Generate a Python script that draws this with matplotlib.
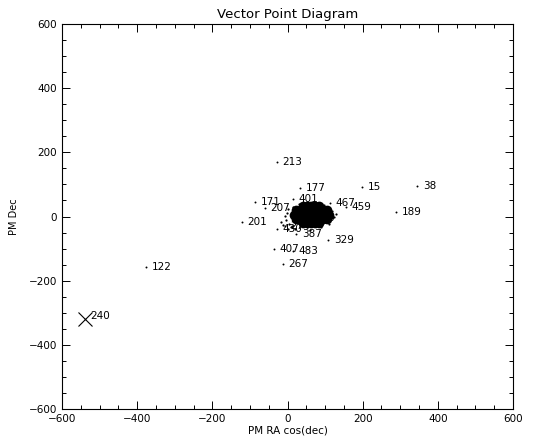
import matplotlib
matplotlib.use("Agg")
import matplotlib.pyplot as plt
from matplotlib.ticker import MultipleLocator

# proper motions of the labelled field stars (mas/yr)
star_ids = ["213", "177", "15", "38", "189", "171", "207", "401", "467", "459",
            "480", "201", "430", "274", "387", "329", "407", "483", "267", "122"]
star_pmra = [-28, 33, 198, 345, 289, -86, -60, 15, 113, 156,
             60, -121, -28, -7, 23, 108, -36, 15, -12, -376]
star_pmdec = [170, 89, 92, 95, 14, 45, 27, 55, 42, 30,
              -5, -17, -39, -30, -55, -73, -101, -108, -148, -157]

# high proper motion star marked with a cross
cross_id = "240"
cross_pmra = -540
cross_pmdec = -320

# cluster members (dense core)
core_pmra = [40, 52, 63, 74, 85,
             22, 33, 43, 53, 63, 73, 83, 94, 104,
             16, 27, 37, 48, 58, 69, 79, 90, 100, 110,
             22, 33, 43, 53, 63, 73, 83, 94, 104,
             40, 52, 63, 74, 85]
core_pmdec = [32, 32, 32, 32, 32,
              19, 19, 19, 19, 19, 19, 19, 19, 19,
              6, 6, 6, 6, 6, 6, 6, 6, 6, 6,
              -8, -8, -8, -8, -8, -8, -8, -8, -8,
              -20, -20, -20, -20, -20]

# cluster members (sparse halo)
halo_pmra = [-5, -12, 2, 8, 0, -8, 118, 124, 110, 96, 30, 45, 70, 88, 20, 12,
             -18, -2, 128, 60, 35, 100, 5, 14]
halo_pmdec = [-12, -25, 22, -32, -38, 2, 18, -2, -22, 35, 40, 42, 44, -33, -40, -28,
              -18, 12, 8, -42, 36, 30, -22, 30]

fig = plt.figure(figsize=(5.4, 4.37), dpi=100)
ax = fig.add_axes([0.115, 0.064, 0.835, 0.881])

ax.plot(core_pmra, core_pmdec, "o", color="black", markersize=7, markeredgewidth=0)
ax.plot(halo_pmra, halo_pmdec, "o", color="black", markersize=1.6, markeredgewidth=0)
ax.plot(star_pmra, star_pmdec, "o", color="black", markersize=1.4, markeredgewidth=0)
ax.plot(cross_pmra, cross_pmdec, "x", color="black", markersize=10, markeredgewidth=0.8)

for sid, x, y in zip(star_ids, star_pmra, star_pmdec):
    ax.annotate(sid, (x, y), xytext=(4, 0), textcoords="offset points",
                va="center", ha="left", fontsize=7.5)
ax.annotate(cross_id, (cross_pmra, cross_pmdec), xytext=(4, 2), textcoords="offset points",
            va="center", ha="left", fontsize=7.5)

ax.set_xlim(-600, 600)
ax.set_ylim(-600, 600)
ax.xaxis.set_major_locator(MultipleLocator(200))
ax.xaxis.set_minor_locator(MultipleLocator(50))
ax.yaxis.set_major_locator(MultipleLocator(200))
ax.yaxis.set_minor_locator(MultipleLocator(50))
ax.tick_params(which="both", direction="in", top=True, right=True, width=0.7,
               labelsize=7.5)
ax.tick_params(which="major", length=6)
ax.tick_params(which="minor", length=3)
for sp in ax.spines.values():
    sp.set_linewidth(0.8)

ax.set_title("Vector Point Diagram", fontsize=9.5, pad=4)
ax.set_xlabel("PM RA cos(dec)", fontsize=7.5, labelpad=1)
ax.set_ylabel("PM Dec", fontsize=7, labelpad=7)

fig.savefig("out.png", dpi=100)
